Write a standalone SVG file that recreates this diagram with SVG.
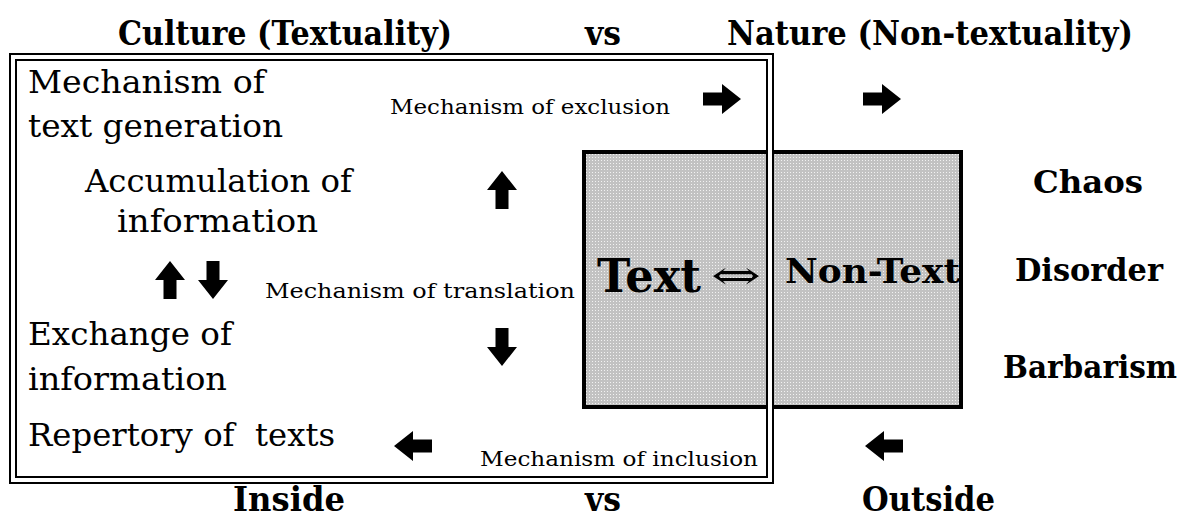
<svg xmlns="http://www.w3.org/2000/svg" width="1184" height="518" viewBox="0 0 1184 518">
<style>
text{font-family:"DejaVu Serif","Liberation Serif",serif;fill:#000}
.h{font-size:34px;font-weight:bold}
.l{font-size:31px}
.s{font-size:20px}
.b{font-size:31px;font-weight:bold}
</style>
<defs>
<pattern id="dots" width="3" height="3" patternUnits="userSpaceOnUse">
<rect width="3" height="3" fill="#c2c2c2"/>
<rect x="1" y="1" width="1" height="1" fill="#f2f2f2"/>
</pattern>
<path id="arr" d="M-19,-6.5 H0 V-15 L19,0 L0,15 V6.5 H-19 Z" fill="#000"/>
</defs>
<rect width="1184" height="518" fill="#fff"/>
<g id="textbox">
<rect x="584" y="152" width="377" height="255" fill="url(#dots)" stroke="#000" stroke-width="4"/>
<text x="597" y="292" font-size="47" font-weight="bold" textLength="104" lengthAdjust="spacingAndGlyphs">Text</text>
<text x="711" y="289" font-size="40" font-family="Liberation Serif, serif" textLength="50" lengthAdjust="spacingAndGlyphs">⇔</text>
<text x="785" y="283" font-size="33" font-weight="bold" textLength="175" lengthAdjust="spacingAndGlyphs">Non-Text</text>
</g>
<g id="culture">
<rect x="13" y="57" width="757" height="423" fill="none" stroke="#000" stroke-width="8"/>
<rect x="13" y="57" width="757" height="423" fill="none" stroke="#fff" stroke-width="4"/>
</g>
<g id="headers">
<text class="h" x="118" y="45" textLength="334" lengthAdjust="spacingAndGlyphs">Culture (Textuality)</text>
<text class="h" x="585" y="45" textLength="36" lengthAdjust="spacingAndGlyphs">vs</text>
<text class="h" x="727" y="45" textLength="406" lengthAdjust="spacingAndGlyphs">Nature (Non-textuality)</text>
<text class="h" x="233" y="511" textLength="112" lengthAdjust="spacingAndGlyphs">Inside</text>
<text class="h" x="585" y="511" textLength="36" lengthAdjust="spacingAndGlyphs">vs</text>
<text class="h" x="862" y="511" textLength="133" lengthAdjust="spacingAndGlyphs">Outside</text>
</g>
<g id="left-labels">
<text class="l" x="28" y="93" textLength="237" lengthAdjust="spacingAndGlyphs">Mechanism of</text>
<text class="l" x="28" y="137" textLength="255" lengthAdjust="spacingAndGlyphs">text generation</text>
<text class="l" x="85" y="192" textLength="267" lengthAdjust="spacingAndGlyphs">Accumulation of</text>
<text class="l" x="117" y="232" textLength="201" lengthAdjust="spacingAndGlyphs">information</text>
<text class="l" x="28" y="345" textLength="204" lengthAdjust="spacingAndGlyphs">Exchange of</text>
<text class="l" x="28" y="390" textLength="199" lengthAdjust="spacingAndGlyphs">information</text>
<text class="l" x="28" y="446" textLength="307" lengthAdjust="spacingAndGlyphs" xml:space="preserve">Repertory of  texts</text>
</g>
<g id="mechanisms">
<text class="s" x="390" y="114" textLength="280" lengthAdjust="spacingAndGlyphs">Mechanism of exclusion</text>
<text class="s" x="265" y="298" textLength="310" lengthAdjust="spacingAndGlyphs">Mechanism of translation</text>
<text class="s" x="480" y="466" textLength="278" lengthAdjust="spacingAndGlyphs">Mechanism of inclusion</text>
</g>
<g id="right-labels">
<text class="b" x="1033" y="193" textLength="110" lengthAdjust="spacingAndGlyphs">Chaos</text>
<text class="b" x="1015" y="281" textLength="148" lengthAdjust="spacingAndGlyphs">Disorder</text>
<text class="b" x="1003" y="378" textLength="174" lengthAdjust="spacingAndGlyphs">Barbarism</text>
</g>
<g id="connectors">
<use href="#arr" transform="translate(722,99)"/>
<use href="#arr" transform="translate(882,99)"/>
<use href="#arr" transform="translate(502,190) rotate(-90)"/>
<use href="#arr" transform="translate(170,280) rotate(-90)"/>
<use href="#arr" transform="translate(213,280) rotate(90)"/>
<use href="#arr" transform="translate(502,347) rotate(90)"/>
<use href="#arr" transform="translate(413,446) rotate(180)"/>
<use href="#arr" transform="translate(884,446) rotate(180)"/>
</g>
</svg>
